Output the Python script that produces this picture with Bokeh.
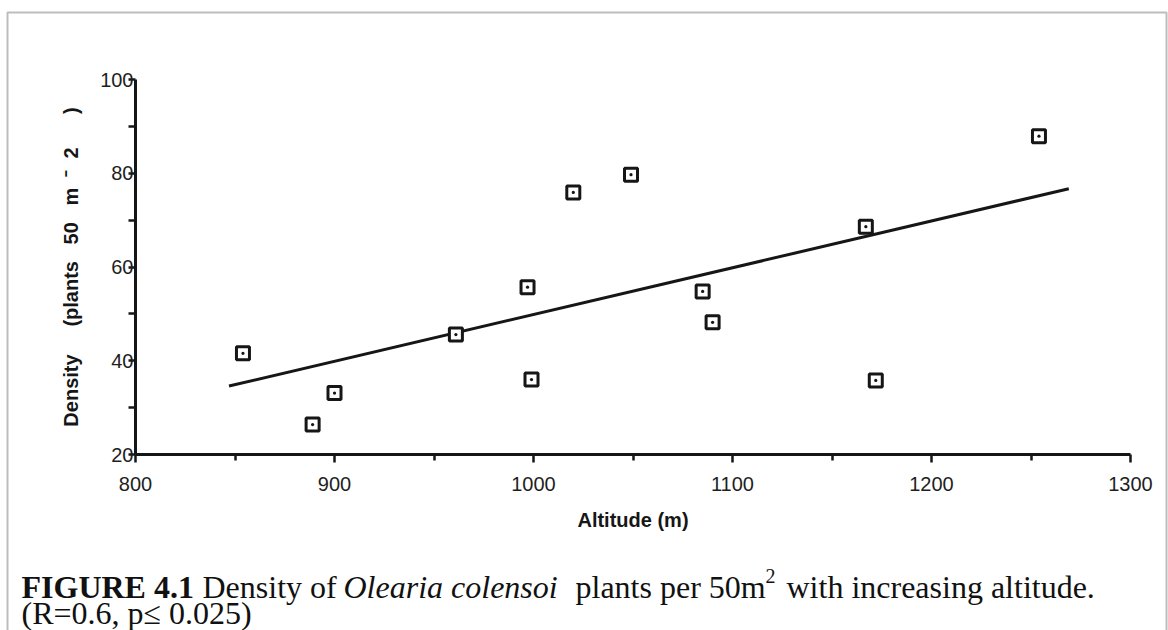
from bokeh.plotting import figure
from bokeh.models import Range1d, FixedTicker, Label, PolyAnnotation, ColumnDataSource
from bokeh.embed import file_html
from bokeh.resources import INLINE

# ---- data ----
altitude = [854, 889, 900, 961, 997, 999, 1020, 1049, 1085, 1090, 1167, 1172, 1254]
density = [41.6, 26.4, 33.1, 45.6, 55.7, 36.0, 75.9, 79.7, 54.8, 48.2, 68.6, 35.8, 87.9]
fit_altitude = [847, 1269]
fit_density = [34.6, 76.7]
x_ticks = [800, 900, 1000, 1100, 1200, 1300]
x_minor = [850, 950, 1050, 1150, 1250]
y_ticks = [20, 40, 60, 80, 100]
y_minor = [30, 50, 70, 90]
x_title = "Altitude (m)"
NB = "\u00a0"
y_title = ("Density" + NB * 5 + "(plants" + NB * 3 + "50" + NB * 3 + "m" + NB * 2 + "\u207b"
           + NB * 2 + "2" + NB * 6 + ")")

# ---- layout: the frame fills the canvas; axes sit at fixed data locations ----
W, H = 1168, 630
X0_PX, X1_PX = 135, 1130      # pixel columns of x = 800 and x = 1300
Y0_PX, Y1_PX = 454, 79        # pixel rows of y = 20 and y = 100
xs = (x_ticks[-1] - x_ticks[0]) / (X1_PX - X0_PX)
ys = (y_ticks[-1] - y_ticks[0]) / (Y0_PX - Y1_PX)
x_range = Range1d(x_ticks[0] - X0_PX * xs, x_ticks[0] + (W - X0_PX) * xs)
y_range = Range1d(y_ticks[0] - (H - Y0_PX) * ys, y_ticks[-1] + Y1_PX * ys)

p = figure(width=W, height=H, x_range=x_range, y_range=y_range,
           output_backend="svg", toolbar_location=None,
           min_border=0, min_border_left=0, min_border_right=0,
           min_border_top=0, min_border_bottom=0)
p.xgrid.visible = False
p.ygrid.visible = False
p.outline_line_color = None
p.background_fill_color = "white"
p.border_fill_color = "white"

ink = "#161616"
for ax in (p.xaxis[0], p.yaxis[0]):
    ax.axis_line_width = 3
    ax.axis_line_color = ink
    ax.major_tick_in = 0
    ax.minor_tick_in = 0
    ax.major_tick_line_width = 2.5
    ax.minor_tick_line_width = 2.5
    ax.major_tick_line_color = ink
    ax.minor_tick_line_color = ink
    ax.major_label_text_font = "Liberation Sans"
    ax.major_label_text_font_size = "20px"
    ax.major_label_text_color = "#1e1e1e"
    ax.axis_label_text_font = "Liberation Sans"
    ax.axis_label_text_font_size = "20px"
    ax.axis_label_text_font_style = "bold"
    ax.axis_label_text_color = ink

xa, ya = p.xaxis[0], p.yaxis[0]
xa.ticker = FixedTicker(ticks=x_ticks, minor_ticks=x_minor)
ya.ticker = FixedTicker(ticks=y_ticks, minor_ticks=y_minor)
xa.fixed_location = y_ticks[0]
xa.bounds = (x_ticks[0], x_ticks[-1])
ya.fixed_location = x_ticks[0]
ya.bounds = (y_ticks[0], y_ticks[-1])
xa.major_tick_out = 8
xa.minor_tick_out = 6
xa.major_label_standoff = 14
xa.axis_label = x_title
xa.axis_label_standoff = 15
ya.major_tick_out = 7
ya.minor_tick_out = 7
ya.major_label_standoff = -5
ya.axis_label = y_title
ya.axis_label_standoff = 15

src = ColumnDataSource(dict(x=altitude, y=density))
p.line(fit_altitude, fit_density, line_color=ink, line_width=3)
p.scatter("x", "y", source=src, marker="square_dot", size=13, line_width=3,
          line_color=ink, fill_color="white")

# outer frame of the figure (screen units, origin at bottom-left of canvas)
p.add_layout(PolyAnnotation(xs=[7, 7, 1166, 1166], ys=[-20, H - 12, H - 12, -20],
                            xs_units="screen", ys_units="screen",
                            fill_alpha=0, line_color="#262626", line_width=2))

cap_font = "Liberation Serif"
def cap(text, px, py, style="normal", size="32px"):
    p.add_layout(Label(x=px, y=H - py, x_units="screen", y_units="screen",
                       text=text, text_font=cap_font, text_font_size=size,
                       text_font_style=style, text_color="#111111",
                       text_baseline="alphabetic", text_align="left"))

cap("FIGURE 4.1", 21, 586, "bold")
cap("Density of", 202, 586)
cap("Olearia colensoi", 343, 586, "italic")
cap("plants per 50m", 575, 586)
cap("2", 765, 575, size="20px")
cap("with increasing altitude.", 786, 586)
cap("(R=0.6, p\u2264 0.025)", 21, 612)

open("out.html", "w").write(file_html(p, INLINE))
